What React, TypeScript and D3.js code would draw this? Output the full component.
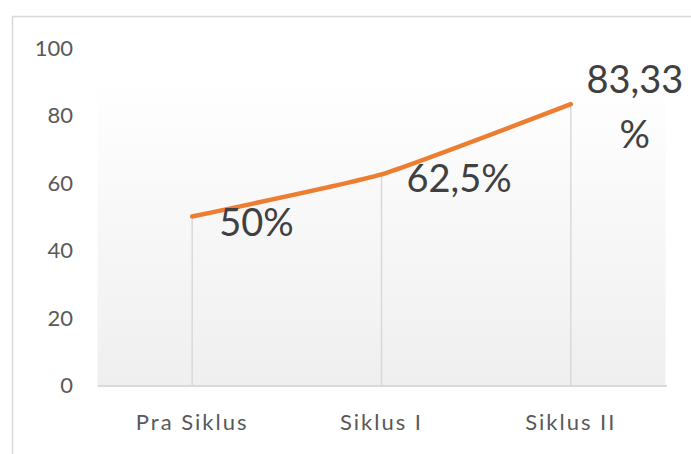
import React from "react";
import * as d3 from "d3";

const categories = ["Pra Siklus", "Siklus I", "Siklus II"];
const values = [50, 62.5, 83.33];
const valueLabels = [["50%"], ["62,5%"], ["83,33", "%"]];
const yTicks = [0, 20, 40, 60, 80, 100];

const W = 691;
const H = 454;

export default function App() {
  const x = d3.scaleBand<string>().domain(categories).range([97.5, 665.5]);
  const cx = (c: string) => (x(c) as number) + x.bandwidth() / 2;
  const y = d3.scaleLinear().domain([0, 100]).range([385, 48]);

  const line = d3
    .line<number>()
    .x((_, i) => cx(categories[i]))
    .y((d) => y(d))
    .curve(d3.curveCardinal.tension(0.6));

  const labelPos = [
    { dx: 27, dy: 6, anchor: "start" },
    { dx: 25, dy: 4, anchor: "start" },
    { dx: 64, dy: -25, anchor: "middle" },
  ];

  const font = "Lato, 'Open Sans', sans-serif";

  return (
    <div style={{ position: "absolute", left: 0, top: 0 }}>
      <svg width={W} height={H} style={{ display: "block", background: "#fff" }}>
        <defs>
          <linearGradient id="bg" x1="0" y1="0" x2="0" y2="1">
            <stop offset="0" stopColor="#ffffff" />
            <stop offset="1" stopColor="#efefef" />
          </linearGradient>
        </defs>
        <rect x={12.5} y={16.5} width={720} height={470} fill="none" stroke="#d9d9d9" strokeWidth={1.5} />
        <rect x={97.5} y={y(100) + 30} width={568} height={y(0) - y(100) - 30} fill="url(#bg)" />
        {yTicks.map((t) => (
          <text
            key={t}
            x={73}
            y={y(t)}
            dy="0.36em"
            textAnchor="end"
            fontFamily={font}
            fontSize={22}
            fill="#595959"
          >
            {t}
          </text>
        ))}
        {categories.map((c, i) => (
          <line
            key={c}
            x1={cx(c)}
            x2={cx(c)}
            y1={y(values[i])}
            y2={y(0)}
            stroke="#d9d9d9"
            strokeWidth={1.5}
          />
        ))}
        <line x1={97.5} x2={667} y1={y(0) + 1} y2={y(0) + 1} stroke="#d9d9d9" strokeWidth={2} />
        {categories.map((c) => (
          <text
            key={c}
            x={cx(c)}
            y={430}
            textAnchor="middle"
            fontFamily={font}
            fontSize={22}
            letterSpacing={2}
            fill="#595959"
          >
            {c}
          </text>
        ))}
        <path d={line(values) || ""} fill="none" stroke="#ed7d31" strokeWidth={4.5} strokeLinecap="round" />
        {categories.map((c, i) => (
          <text
            key={c}
            y={y(values[i]) + labelPos[i].dy}
            textAnchor={labelPos[i].anchor}
            fontFamily={font}
            fontSize={38}
            fill="#404040"
          >
            {valueLabels[i].map((s, j) => (
              <tspan key={j} x={cx(c) + labelPos[i].dx} dy={j === 0 ? "0.36em" : 55}>
                {s}
              </tspan>
            ))}
          </text>
        ))}
      </svg>
    </div>
  );
}
